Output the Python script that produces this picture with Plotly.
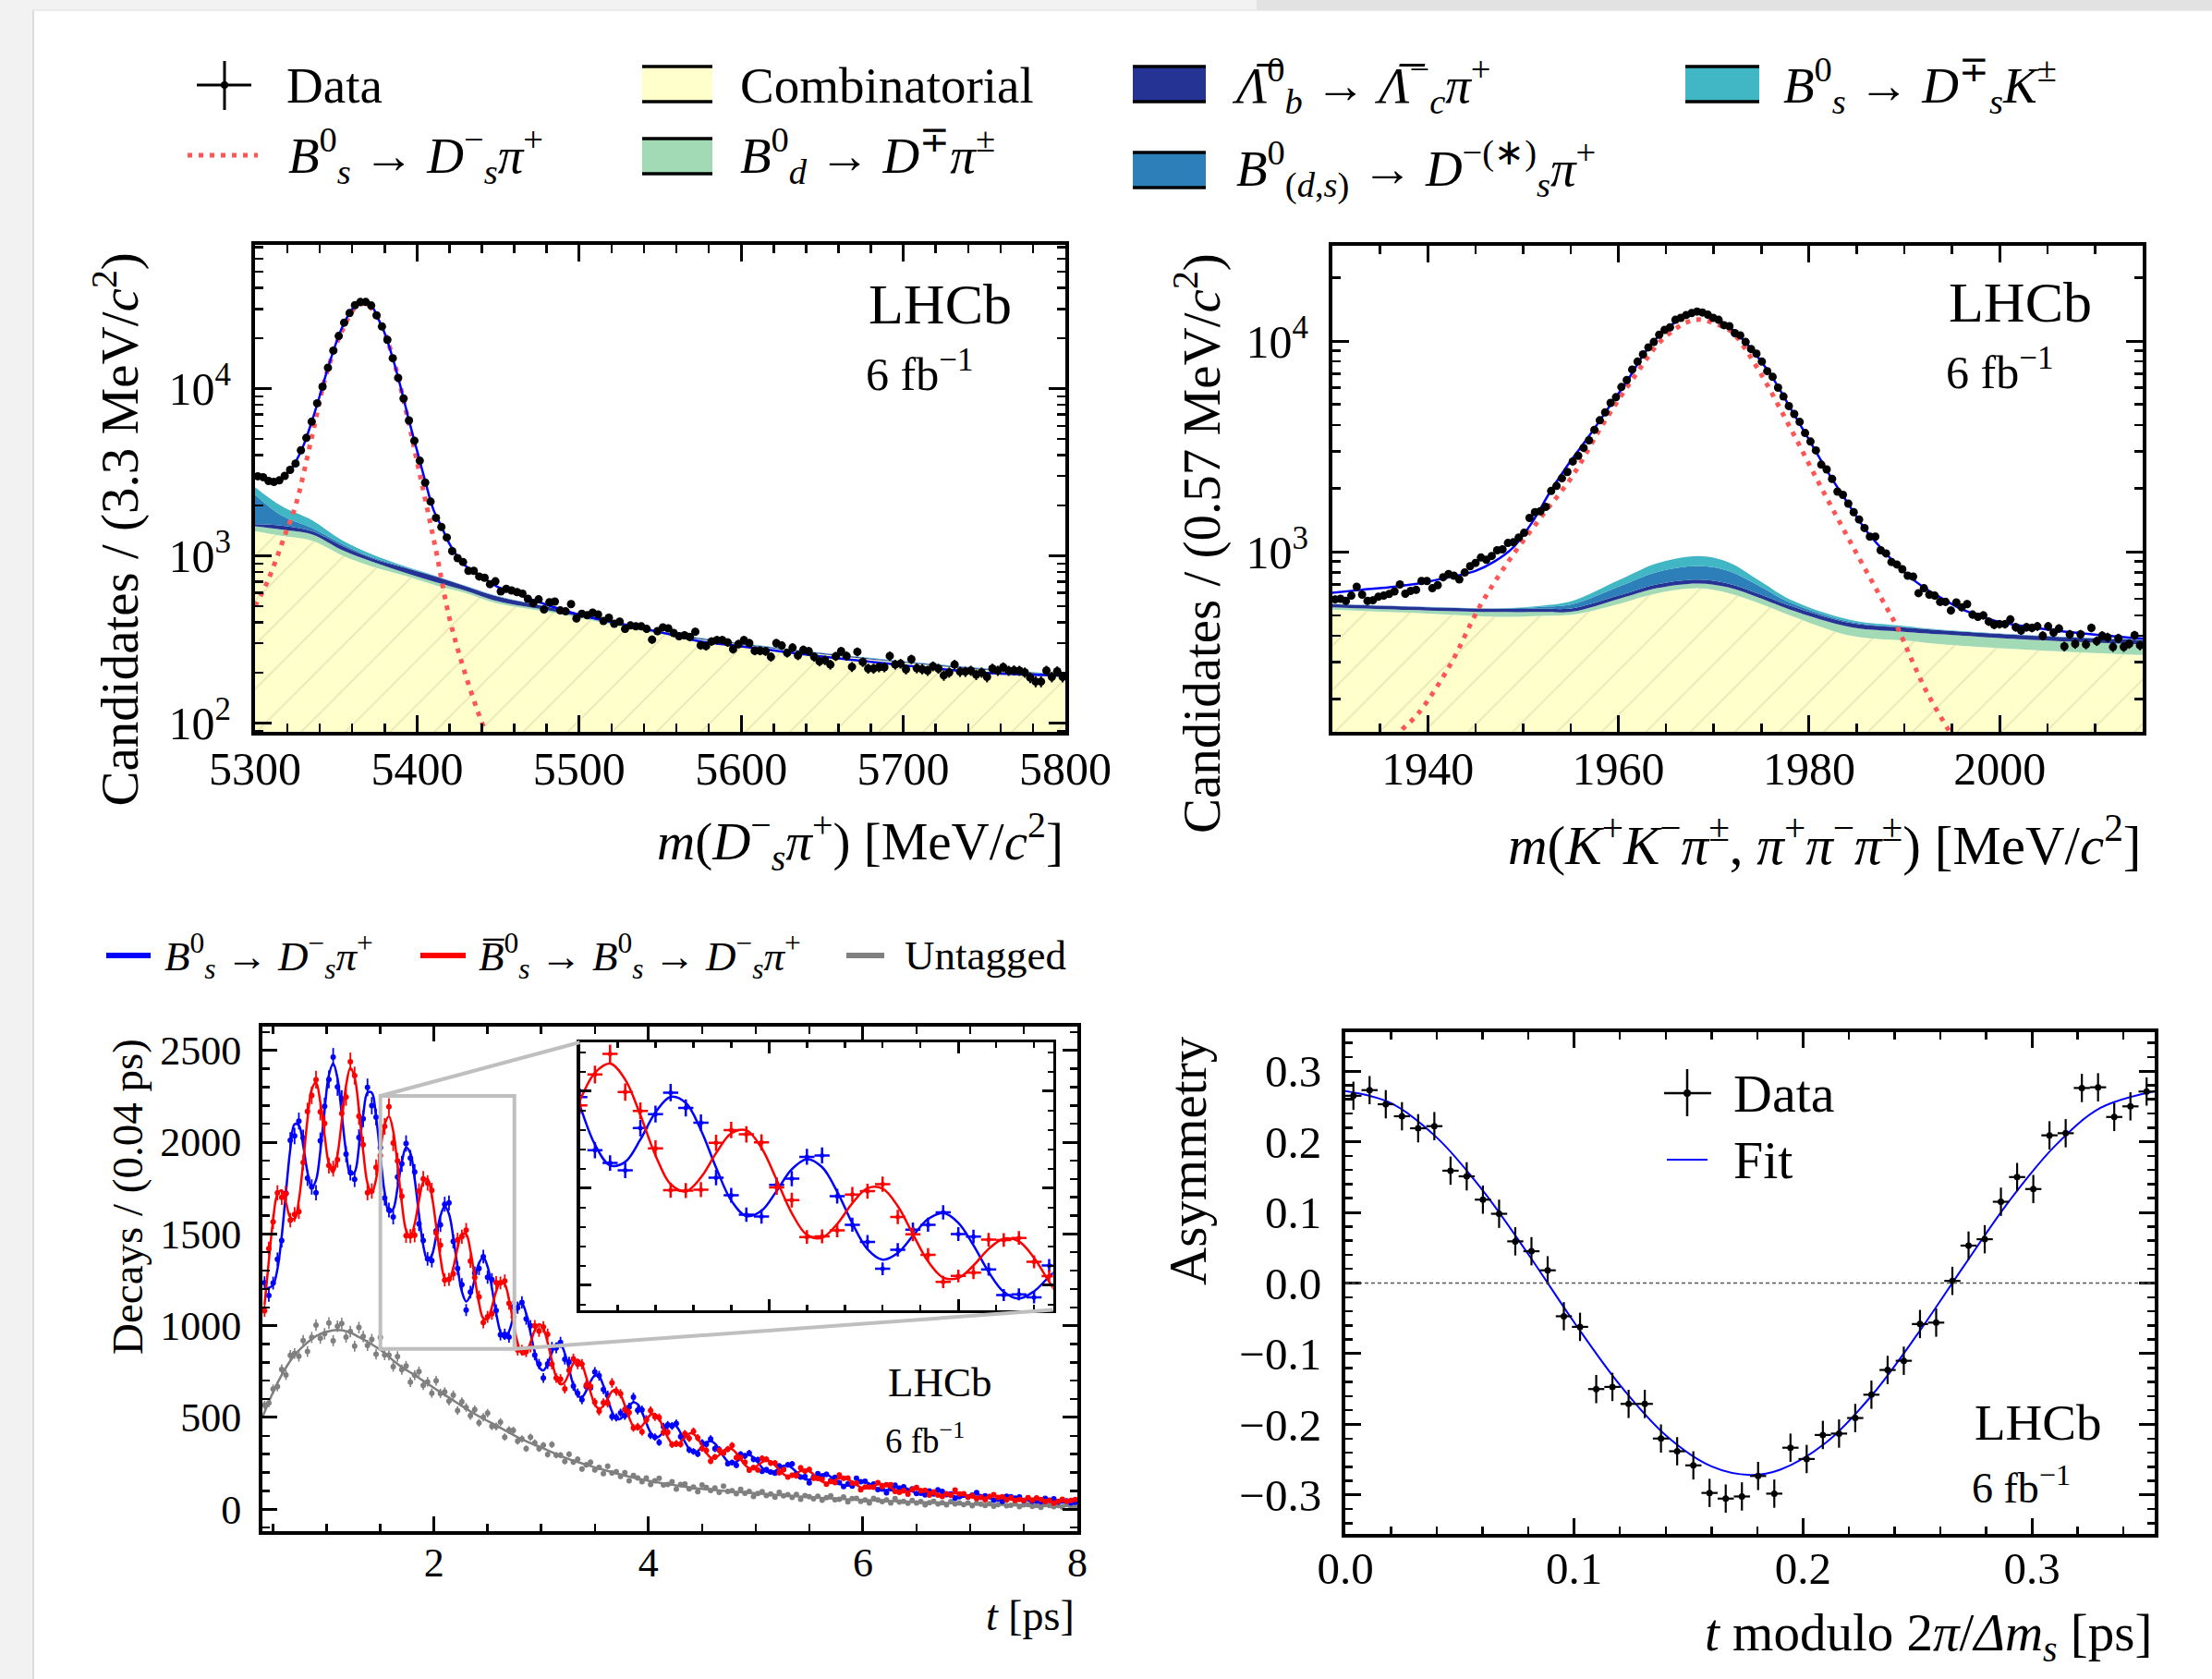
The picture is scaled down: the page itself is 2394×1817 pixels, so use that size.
import numpy as np
import plotly.graph_objects as go

W, H = 2394, 1817
FONT = "Liberation Serif"

# ---------------- data: top-left  m(Ds pi) ----------------
TL_BIN_LO, TL_BIN_W = 5300.0, 500.0 / 150
TL_DATA = [2994, 2955, 2804, 2768, 2829, 3008, 3268, 3566, 4283, 5080,
           6348, 8178, 10265, 13344, 16893, 20654, 24810, 28290, 31560, 32960,
           32960, 31420, 27440, 23540, 19600, 15210, 11600, 8733, 6459, 4884,
           3709, 2744, 2111, 1689, 1488, 1288, 1068, 970, 920, 814,
           814, 753, 740, 678, 705, 613, 635, 621, 608, 595,
           554, 522, 550, 478, 528, 533, 472, 466, 515, 423,
           451, 442, 458, 446, 408, 427, 393, 405, 366, 384,
           379, 379, 366, 316, 355, 374, 369, 346, 331, 335,
           328, 352, 292, 289, 308, 314, 314, 304, 277, 297,
           314, 301, 271, 271, 269, 249, 301, 291, 263, 283,
           254, 274, 269, 249, 234, 238, 224, 251, 269, 252,
           217, 267, 232, 212, 212, 216, 216, 252, 224, 227,
           210, 241, 213, 210, 206, 219, 212, 193, 201, 224,
           203, 203, 206, 195, 201, 189, 212, 206, 216, 206,
           207, 206, 201, 187, 177, 177, 206, 189, 204, 189]
TL_FIT_M = [5300, 5305, 5310, 5315, 5320, 5325, 5330, 5335, 5340, 5345, 5350, 5355, 5360,
            5365, 5368, 5372, 5376, 5380, 5385, 5390, 5395, 5400, 5405, 5410, 5415, 5420,
            5425, 5430, 5440, 5450, 5460, 5475, 5500, 5525, 5550, 5575, 5600, 5650, 5700,
            5750, 5800]
TL_FIT_N = [3000, 2900, 2790, 2850, 3130, 3650, 4600, 6350, 9100, 13300, 18700, 24700, 29900,
            32900, 33000, 31200, 26200, 21500, 15200, 10100, 6450, 4250, 2800, 1900, 1500, 1180,
            990, 870, 750, 650, 600, 530, 445, 395, 350, 308, 288, 250, 222, 200, 192]
TL_SIG_M = [5300, 5308, 5319, 5325, 5335, 5344, 5354, 5363, 5368.5, 5376, 5384, 5392, 5401,
            5411, 5420, 5430, 5441, 5450]
TL_SIG_N = [500, 714, 1376, 1994, 5100, 12200, 22500, 31300, 32000, 26300, 16600, 8260, 3300,
            1160, 423, 193, 95, 60]
TL_BG_M = [5300, 5316, 5335, 5354, 5373, 5392, 5411, 5430, 5449, 5487, 5551, 5600, 5700, 5800]
TL_COMB = [1406, 1320, 1233, 1005, 859, 763, 669, 600, 522, 452, 340, 292, 229, 190]
TL_BD = [1505, 1440, 1346, 1081, 920, 796, 699, 620, 538, 461, 345, 295, 230, 191]
TL_LB = [1549, 1521, 1406, 1145, 962, 851, 754, 657, 574, 482, 351, 299, 233, 193]
TL_BDS = [2323, 1750, 1469, 1175, 975, 860, 758, 660, 576, 483, 352, 300, 234, 194]
TL_DSK = [2577, 1995, 1637, 1233, 1014, 869, 762, 663, 578, 484, 353, 301, 235, 195]

# ---------------- data: top-right  m(Ds) ----------------
TR_BIN_LO, TR_BIN_W = 1930.0, 85.0 / 150
TR_DATA = [595, 599, 585, 620, 683, 627, 585, 589, 612, 620,
           631, 649, 700, 633, 653, 660, 727, 727, 672, 695,
           758, 785, 771, 740, 798, 855, 886, 940, 917, 956,
           1017, 1028, 1102, 1110, 1169, 1231, 1449, 1542, 1558, 1635,
           1944, 2055, 2233, 2393, 2683, 2855, 3113, 3383, 3792, 4209,
           4588, 5091, 5417, 6053, 6531, 7323, 7986, 8647, 9331, 9897,
           10717, 11290, 11607, 12613, 12877, 13284, 13563, 13800, 13657, 13331,
           12877, 12613, 11890, 11766, 10904, 10643, 9897, 9171, 8706, 7986,
           7197, 6763, 6010, 5455, 4917, 4510, 4135, 3663, 3337, 3029,
           2592, 2460, 2218, 1931, 1865, 1693, 1542, 1424, 1297, 1181,
           1181, 1017, 983, 895, 871, 827, 771, 763, 637, 672,
           627, 620, 579, 579, 527, 575, 546, 565, 504, 492,
           500, 467, 451, 454, 454, 478, 439, 424, 439, 436,
           443, 400, 443, 414, 433, 356, 406, 366, 406, 364,
           436, 377, 400, 393, 354, 389, 354, 366, 402, 360]
TR_FIT_M = [1930, 1933, 1936, 1939, 1942, 1945, 1947, 1949, 1951, 1953, 1955, 1957, 1959,
            1961, 1963, 1965, 1967, 1968.3, 1970, 1972, 1974, 1976, 1978, 1980, 1982, 1984,
            1986, 1988, 1990, 1992, 1994, 1996, 1998, 2000, 2005, 2010, 2015]
TR_FIT_N = [640, 660, 680, 707, 754, 812, 900, 1053, 1390, 1980, 2700, 3580, 4850,
            6550, 9100, 11400, 13100, 13700, 12950, 11300, 9100, 6900, 4850, 3400, 2380, 1720,
            1260, 990, 800, 680, 600, 535, 495, 465, 428, 405, 388]
TR_SIG_M = [1936, 1937.1, 1939, 1942.3, 1945.5, 1948.7, 1951.9, 1955.2, 1958.4, 1961.6, 1964.8,
            1968.1, 1971.3, 1972.2, 1974.7, 1978, 1981.2, 1984.4, 1987.6, 1989.3, 1990.9,
            1992.5, 1994.7, 1996]
TR_SIG_N = [118, 140, 171, 288, 555, 933, 1462, 2296, 4050, 6700, 10350,
            12620, 11490, 10720, 7300, 3900, 2050, 1100, 600, 435, 298,
            210, 141, 112]
TR_BG_M = [1930, 1940, 1947.4, 1952, 1955.2, 1960, 1964, 1968.4, 1971.5, 1975, 1978, 1984.4,
           1990, 1994, 2004, 2015]
TR_COMB = [532, 510, 492, 497, 504, 565, 635, 672, 638, 565, 500, 400, 380, 364, 341, 324]
TR_BD = [546, 527, 518, 518, 521, 598, 672, 708, 679, 600, 532, 439, 418, 406, 381, 364]
TR_LB = [565, 546, 537, 537, 540, 620, 700, 738, 707, 625, 555, 459, 438, 424, 399, 381]
TR_BDS = [566, 547, 538, 548, 565, 683, 800, 856, 812, 680, 575, 465, 440, 425, 400, 382]
TR_DSK = [567, 548, 539, 555, 585, 732, 880, 956, 895, 720, 595, 475, 445, 427, 401, 383]

# ---------------- data: bottom-left  decay time ----------------
T_BIN_LO, T_BIN_W = 0.40, 0.04
BLUE_DATA = [1234, 1164, 1232, 1362, 1464, 1722, 2010, 2034, 2115, 2023,
             1804, 1756, 1725, 2008, 2196, 2342, 2464, 2301, 2236, 1935,
             1834, 1798, 2025, 2128, 2299, 2199, 2137, 1970, 1696, 1630,
             1592, 1810, 1882, 1993, 1914, 1838, 1555, 1464, 1364, 1354,
             1517, 1550, 1662, 1669, 1459, 1312, 1224, 1085, 1183, 1287,
             1312, 1376, 1264, 1251, 1082, 950, 953, 938, 1102, 1098,
             1127, 1037, 999, 840, 791, 715, 792, 882, 879, 909,
             817, 802, 671, 632, 596, 668, 661, 747, 727, 652,
             621, 504, 500, 525, 509, 556, 610, 539, 541, 490,
             402, 393, 364, 449, 459, 453, 467, 395, 402, 323,
             314, 301, 362, 354, 383, 329, 325, 305, 248, 254,
             239, 299, 290, 305, 272, 269, 206, 215, 202, 196,
             235, 218, 242, 246, 193, 175, 177, 143, 175, 193,
             179, 190, 156, 174, 145, 123, 137, 125, 168, 149,
             152, 128, 137, 107, 109, 89, 111, 130, 114, 122,
             98, 111, 85, 87, 78, 99, 83, 105, 97, 79,
             83, 59, 68, 80, 68, 76, 90, 64, 73, 68,
             49, 55, 43, 70, 67, 60, 66, 47, 60, 42,
             45, 40, 59, 49, 56, 39, 44, 45, 33, 38]
RED_DATA = [1081, 1420, 1566, 1724, 1699, 1719, 1575, 1606, 1622, 1889,
            2168, 2255, 2341, 2165, 2102, 1873, 1856, 1905, 2157, 2246,
            2439, 2363, 2141, 1986, 1725, 1734, 1863, 1927, 2086, 2193,
            1996, 1899, 1706, 1490, 1488, 1493, 1734, 1800, 1778, 1737,
            1505, 1439, 1249, 1252, 1283, 1468, 1485, 1521, 1352, 1263,
            1157, 1017, 1048, 1065, 1235, 1233, 1244, 1121, 1047, 867,
            866, 858, 884, 999, 970, 993, 953, 790, 715, 709,
            656, 757, 819, 791, 790, 676, 670, 582, 534, 580,
            578, 688, 643, 629, 544, 526, 443, 449, 421, 486,
            537, 503, 499, 419, 419, 352, 357, 354, 411, 386,
            424, 389, 331, 320, 261, 284, 321, 307, 327, 347,
            281, 280, 255, 212, 226, 214, 277, 272, 251, 251,
            198, 215, 175, 185, 181, 225, 207, 216, 168, 167,
            162, 135, 151, 144, 186, 168, 169, 142, 142, 105,
            121, 121, 119, 144, 123, 133, 133, 97, 92, 101,
            82, 108, 118, 100, 103, 77, 94, 77, 69, 84,
            75, 104, 83, 84, 65, 74, 57, 65, 51, 69,
            79, 64, 67, 50, 62, 47, 53, 48, 63, 48,
            61, 53, 41, 47, 32, 43, 54, 43, 48, 53]
GRAY_DATA = [567, 579, 654, 668, 762, 731, 838, 848, 833, 919,
             859, 936, 1003, 932, 956, 1014, 918, 997, 1012, 938,
             968, 888, 990, 941, 892, 925, 844, 937, 841, 839,
             777, 832, 760, 780, 692, 730, 750, 675, 694, 632,
             700, 631, 639, 589, 622, 537, 585, 554, 509, 542,
             470, 501, 523, 452, 450, 474, 393, 431, 429, 371,
             383, 330, 392, 361, 330, 348, 298, 352, 294, 294,
             260, 299, 257, 271, 219, 242, 255, 214, 227, 193,
             234, 197, 204, 178, 199, 155, 184, 170, 149, 170,
             134, 154, 168, 132, 134, 149, 109, 134, 137, 111,
             120, 95, 132, 118, 102, 116, 91, 126, 96, 100,
             84, 108, 86, 96, 69, 85, 95, 74, 83, 65,
             92, 73, 79, 64, 80, 54, 74, 67, 56, 70,
             49, 63, 73, 51, 54, 66, 40, 57, 59, 43,
             50, 34, 59, 50, 41, 50, 34, 57, 39, 42,
             32, 48, 34, 41, 24, 35, 42, 28, 35, 24,
             41, 29, 33, 25, 34, 19, 32, 27, 20, 30,
             16, 25, 32, 19, 21, 28, 13, 23, 25, 15,
             20, 10, 25, 20, 14, 20, 11, 25, 13, 16]
BLUE_FIT = [1206, 1206, 1222, 1308, 1487, 1730, 1961, 2098, 2092, 1983,
            1838, 1752, 1793, 1951, 2177, 2366, 2429, 2349, 2152, 1948,
            1825, 1837, 1972, 2147, 2270, 2270, 2137, 1926, 1725, 1618,
            1636, 1751, 1891, 1971, 1940, 1800, 1607, 1437, 1357, 1384,
            1486, 1598, 1650, 1609, 1482, 1319, 1186, 1132, 1166, 1255,
            1341, 1372, 1322, 1206, 1069, 966, 932, 969, 1044, 1108,
            1120, 1066, 962, 852, 774, 756, 792, 853, 900, 900,
            849, 763, 676, 620, 611, 645, 695, 728, 722, 673,
            601, 532, 493, 492, 523, 561, 583, 572, 529, 470,
            418, 391, 396, 422, 451, 464, 452, 415, 367, 328,
            310, 317, 340, 362, 371, 357, 325, 288, 259, 249,
            257, 276, 293, 296, 282, 255, 226, 205, 199, 208,
            223, 236, 237, 224, 202, 178, 163, 161, 169, 181,
            190, 189, 177, 158, 140, 129, 129, 137, 146, 153,
            150, 139, 124, 111, 103, 104, 111, 119, 122, 119,
            110, 97, 87, 82, 84, 90, 96, 98, 95, 86,
            76, 69, 66, 68, 73, 78, 80, 76, 69, 61,
            55, 54, 55, 60, 64, 64, 61, 54, 48, 44,
            44, 46, 50, 52, 52, 49, 44, 39, 37, 36]
RED_FIT = [1114, 1354, 1578, 1716, 1737, 1670, 1591, 1582, 1684, 1889,
           2122, 2288, 2327, 2217, 2039, 1882, 1835, 1931, 2116, 2308,
           2405, 2353, 2178, 1951, 1776, 1722, 1799, 1954, 2095, 2142,
           2060, 1877, 1669, 1521, 1484, 1556, 1681, 1783, 1799, 1708,
           1544, 1372, 1260, 1245, 1316, 1423, 1500, 1498, 1408, 1263,
           1123, 1040, 1038, 1102, 1187, 1240, 1226, 1141, 1018, 906,
           846, 852, 908, 974, 1008, 984, 908, 807, 720, 680,
           693, 743, 794, 814, 787, 719, 637, 572, 546, 563,
           603, 642, 651, 624, 565, 499, 451, 436, 453, 486,
           514, 519, 492, 442, 391, 356, 348, 365, 393, 412,
           410, 385, 346, 306, 281, 279, 295, 318, 331, 327,
           305, 272, 241, 224, 224, 239, 256, 265, 259, 240,
           213, 190, 179, 182, 194, 208, 213, 207, 189, 167,
           150, 143, 147, 158, 168, 171, 163, 149, 132, 119,
           114, 119, 128, 135, 137, 130, 117, 103, 94, 91,
           96, 103, 109, 108, 102, 92, 82, 74, 73, 78,
           84, 87, 86, 82, 73, 64, 60, 60, 63, 69,
           71, 70, 65, 58, 52, 48, 49, 52, 56, 58,
           56, 52, 46, 42, 40, 41, 44, 47, 49, 46]
GRAY_FIT_T = [0.4, 0.5, 0.6, 0.7, 0.8, 0.9, 1.0, 1.1, 1.2, 1.3, 1.4, 1.5, 1.6, 1.7, 1.8, 1.9,
              2.0, 2.2, 2.4, 2.6, 2.8, 3.0, 3.2, 3.4, 3.6, 3.8, 4.0, 4.25, 4.5, 5.0, 5.5, 6.0,
              6.5, 7.0, 7.5, 8.0]
GRAY_FIT_N = [500, 638, 752, 840, 898, 943, 967, 977, 967, 938, 905, 868, 820, 774, 738, 699,
              661, 585, 512, 450, 386, 336, 285, 246, 211, 180, 155, 130, 110, 86, 65, 50,
              39, 29, 22, 16]
ZOOM_T = [1.5, 2.75]
ZOOM_N = [873, 2252]

# ---------------- data: bottom-right  asymmetry ----------------
A_BIN_LO, A_BIN_W = 0.0, 0.35368 / 50
ASYM = [0.265, 0.273, 0.253, 0.236, 0.219, 0.222, 0.159, 0.151, 0.118, 0.098,
        0.059, 0.045, 0.018, -0.047, -0.062, -0.150, -0.147, -0.171, -0.171, -0.220,
        -0.238, -0.258, -0.297, -0.305, -0.302, -0.273, -0.298, -0.233, -0.249, -0.215,
        -0.213, -0.191, -0.158, -0.123, -0.110, -0.058, -0.056, 0.003, 0.053, 0.062,
        0.115, 0.150, 0.133, 0.209, 0.212, 0.276, 0.277, 0.235, 0.250, 0.271]
ASYM_ERR = 0.02
ASYM_FIT_T = [0.0, 0.02, 0.04, 0.06, 0.08, 0.10, 0.12, 0.14, 0.16, 0.177, 0.19, 0.21, 0.23,
              0.25, 0.27, 0.29, 0.31, 0.33, 0.3537]
ASYM_FIT = [0.2715, 0.2545, 0.2058, 0.1313, 0.0406, -0.0555, -0.1443, -0.2154, -0.2594, -0.2715,
            -0.2641, -0.2259, -0.1592, -0.0725, 0.0227, 0.1156, 0.1937, 0.2478, 0.2715]

# ---------------- layout helpers ----------------
def px(x):
    return x / W


def py(y):
    return 1 - y / H


BOX = {  # left, right, top, bottom in pixels
    'tl': (276, 1153, 265, 792),
    'tr': (1442, 2319, 266, 792),
    'bl': (284, 1166, 1111, 1657),
    'br': (1456, 2332, 1117, 1660),
    'in': (627.5, 1139.6, 1128, 1417.6),
}


def xdom(k):
    b = BOX[k]
    return [px(b[0]), px(b[1])]


def ydom(k):
    b = BOX[k]
    return [py(b[3]), py(b[2])]


C_YEL, C_GRN, C_CYN, C_BLU, C_NAV = '#ffffcc', '#a1dab4', '#41b6c4', '#2c7fb8', '#253494'
C_SIG = '#ff5555'
C_FIT = '#0000ff'
SIG_DASH = '5px,7px'

fig = go.Figure()


def band_traces(m, layers, xa, ya):
    fig.add_trace(go.Scatter(x=[m[0], m[-1]], y=[1.0, 1.0], mode='lines', line=dict(width=0),
                             xaxis=xa, yaxis=ya, hoverinfo='skip'))
    first = True
    for vals, color in layers:
        kw = {}
        if first:
            kw['fillpattern'] = dict(shape='/', size=34, solidity=0.05, fgcolor='#e9e6b6',
                                     bgcolor=C_YEL, fgopacity=1)
        fig.add_trace(go.Scatter(x=m, y=vals, mode='lines', line=dict(width=0, shape='spline'),
                                 fill='tonexty', fillcolor=color, xaxis=xa, yaxis=ya,
                                 hoverinfo='skip', **kw))
        first = False


def mass_panel(xa, ya, bg_m, comb, bd, lb, bds, dsk, sig_m, sig_n, fit_m, fit_n, data, lo, w):
    band_traces(bg_m, [(comb, C_YEL), (bd, C_GRN), (lb, C_NAV), (bds, C_BLU), (dsk, C_CYN)], xa, ya)
    fig.add_trace(go.Scatter(x=sig_m, y=sig_n, mode='lines', xaxis=xa, yaxis=ya,
                             line=dict(color=C_SIG, width=5, dash=SIG_DASH, shape='spline')))
    fig.add_trace(go.Scatter(x=fit_m, y=fit_n, mode='lines', xaxis=xa, yaxis=ya,
                             line=dict(color=C_FIT, width=2.5, shape='spline')))
    fig.add_trace(go.Scatter(x0=lo + w / 2, dx=w, y=data, mode='markers', xaxis=xa, yaxis=ya,
                             marker=dict(color='black', size=9),
                             error_y=dict(type='data', array=np.sqrt(data), color='black',
                                          thickness=2, width=0)))


mass_panel('x', 'y', TL_BG_M, TL_COMB, TL_BD, TL_LB, TL_BDS, TL_DSK, TL_SIG_M, TL_SIG_N,
           TL_FIT_M, TL_FIT_N, TL_DATA, TL_BIN_LO, TL_BIN_W)
mass_panel('x2', 'y2', TR_BG_M, TR_COMB, TR_BD, TR_LB, TR_BDS, TR_DSK, TR_SIG_M, TR_SIG_N,
           TR_FIT_M, TR_FIT_N, TR_DATA, TR_BIN_LO, TR_BIN_W)

# decay time panel + inset
C_B, C_R, C_G = '#0000ff', '#ff0000', '#808080'
t0 = T_BIN_LO + T_BIN_W / 2
fig.add_trace(go.Scatter(x=GRAY_FIT_T, y=GRAY_FIT_N, mode='lines', xaxis='x3', yaxis='y3',
                         line=dict(color=C_G, width=2.5, shape='spline')))
fig.add_trace(go.Scatter(x0=t0, dx=T_BIN_W, y=GRAY_DATA, mode='markers', xaxis='x3', yaxis='y3',
                         marker=dict(color=C_G, size=6),
                         error_y=dict(type='data', array=np.sqrt(GRAY_DATA), color=C_G,
                                      thickness=1.6, width=0)))
for data, fit, col in [(BLUE_DATA, BLUE_FIT, C_B), (RED_DATA, RED_FIT, C_R)]:
    fig.add_trace(go.Scatter(x0=t0, dx=T_BIN_W, y=fit, mode='lines', xaxis='x3', yaxis='y3',
                             line=dict(color=col, width=2.5, shape='spline')))
    fig.add_trace(go.Scatter(x0=t0, dx=T_BIN_W, y=data, mode='markers', xaxis='x3', yaxis='y3',
                             marker=dict(color=col, size=6),
                             error_y=dict(type='data', array=np.sqrt(data), color=col,
                                          thickness=1.8, width=0)))
    fig.add_trace(go.Scatter(x0=t0, dx=T_BIN_W, y=fit, mode='lines', xaxis='x5', yaxis='y5',
                             line=dict(color=col, width=2.5, shape='spline')))
    fig.add_trace(go.Scatter(x0=t0, dx=T_BIN_W, y=data, mode='markers', xaxis='x5', yaxis='y5',
                             marker=dict(color=col, size=5),
                             error_y=dict(type='data', array=np.sqrt(data), color=col,
                                          thickness=2.5, width=0),
                             error_x=dict(type='constant', value=T_BIN_W / 2, color=col,
                                          thickness=2.5, width=0)))

# asymmetry panel
fig.add_trace(go.Scatter(x=ASYM_FIT_T, y=ASYM_FIT, mode='lines', xaxis='x4', yaxis='y4',
                         line=dict(color=C_FIT, width=2, shape='spline')))
fig.add_trace(go.Scatter(x0=A_BIN_LO + A_BIN_W / 2, dx=A_BIN_W, y=ASYM, mode='markers',
                         xaxis='x4', yaxis='y4', marker=dict(color='black', size=7),
                         error_y=dict(type='constant', value=ASYM_ERR, color='black',
                                      thickness=2.2, width=0),
                         error_x=dict(type='constant', value=A_BIN_W / 2, color='black',
                                      thickness=2.2, width=0)))


# ---------------- axes ----------------
def axis(k, anchor, rng, size, major_len, minor_len, is_x, minor_kw=None, **kw):
    d = dict(domain=xdom(k) if is_x else ydom(k), anchor=anchor, range=rng, automargin=False,
             showline=True, linecolor='black', linewidth=4, mirror='allticks',
             ticks='inside', ticklen=major_len, tickwidth=3, tickcolor='black',
             showgrid=False, zeroline=False,
             tickfont=dict(family=FONT, size=size, color='black'))
    mn = dict(ticks='inside', ticklen=minor_len, tickwidth=2.5, tickcolor='black', showgrid=False)
    mn.update(minor_kw or {})
    d['minor'] = mn
    d.update(kw)
    return d


def log_minor(decades):
    return [d * k for d in decades for k in range(2, 10)]


LOG_TEXT = {100: '10<sup>2</sup>', 1000: '10<sup>3</sup>', 10000: '10<sup>4</sup>'}

fig.update_layout(
    xaxis=axis('tl', 'y', [5300, 5800], 50, 18, 9, True, dict(dtick=20), tick0=5300, dtick=100,
               ticklabelstandoff=-7),
    yaxis=axis('tl', 'x', [np.log10(88.7), np.log10(72400)], 50, 18, 9, False,
               dict(tickvals=log_minor([10, 100, 1000, 10000])), type='log',
               tickvals=[100, 1000, 10000], ticktext=[LOG_TEXT[v] for v in (100, 1000, 10000)],
               ticklabelstandoff=12),
    xaxis2=axis('tr', 'y2', [1930, 2015], 50, 18, 9, True, dict(dtick=5, tick0=1930),
                tick0=1940, dtick=20, ticklabelstandoff=-7),
    yaxis2=axis('tr', 'x2', [np.log10(140), np.log10(28300)], 50, 18, 9, False,
                dict(tickvals=log_minor([100, 1000, 10000])), type='log',
                tickvals=[1000, 10000], ticktext=[LOG_TEXT[v] for v in (1000, 10000)],
                ticklabelstandoff=12),
    xaxis3=axis('bl', 'y3', [0.4, 8.0], 44, 16, 8, True, dict(dtick=0.5, tick0=0),
                tick0=0, dtick=2, ticklabelstandoff=-8),
    yaxis3=axis('bl', 'x3', [-120, 2630], 44, 16, 8, False, dict(dtick=100, tick0=0),
                tick0=0, dtick=500, ticklabelstandoff=10),
    xaxis4=axis('br', 'y4', [0, 0.35368], 49, 17, 8, True, dict(dtick=0.02, tick0=0),
                tick0=0, dtick=0.1, tickformat='.1f', ticklabelstandoff=-9),
    yaxis4=axis('br', 'x4', [-0.355, 0.355], 49, 17, 8, False, dict(dtick=0.02, tick0=0),
                tick0=0, dtick=0.1, tickformat='.1f', ticklabelstandoff=12),
    xaxis5=axis('in', 'y5', ZOOM_T, 10, 12, 6, True, dict(dtick=0.1, tick0=0),
                tick0=0, dtick=0.5, showticklabels=False, linewidth=3.5),
    yaxis5=axis('in', 'x5', ZOOM_N, 10, 12, 6, False, dict(dtick=100, tick0=0),
                tick0=0, dtick=500, showticklabels=False, linewidth=3.5),
    width=W, height=H, margin=dict(l=0, r=0, t=0, b=0, autoexpand=False),
    paper_bgcolor='#f2f2f2', plot_bgcolor='rgba(0,0,0,0)', showlegend=False,
    font=dict(family=FONT, color='black'), hovermode=False,
)

shapes = []
ann = []


def pline(x0, y0, x1, y1, color='black', width=3, dash=None):
    shapes.append(dict(type='line', xref='paper', yref='paper', x0=px(x0), y0=py(y0),
                       x1=px(x1), y1=py(y1), line=dict(color=color, width=width, dash=dash)))


def prect(x0, y0, x1, y1, fill, edges=True, layer='above'):
    shapes.append(dict(type='rect', xref='paper', yref='paper', x0=px(x0), y0=py(y1),
                       x1=px(x1), y1=py(y0), fillcolor=fill, line=dict(width=0), layer=layer))
    if edges:
        pline(x0, y0, x1, y0, width=3.5)
        pline(x0, y1, x1, y1, width=3.5)


def text(x, y, s, size, xanchor='left', yanchor='middle', angle=0):
    ann.append(dict(xref='paper', yref='paper', x=px(x), y=py(y), text=s, showarrow=False,
                    xanchor=xanchor, yanchor=yanchor, textangle=angle,
                    font=dict(family=FONT, size=size, color='black')))


# page card (white sheet on a light grey page)
prect(1360, 0, W, 11, '#e2e2e2', edges=False, layer='below')
prect(36, 11, W, H, 'white', edges=False, layer='below')
pline(36, 11, 36, H, color='#dcdcdc', width=2)
pline(36, 11, W, 11, color='#e6e6e6', width=1.5)

# top legend
LEG = 55
pline(213, 92, 272, 92, width=3)
pline(243, 66, 243, 119, width=3)
shapes.append(dict(type='circle', xref='paper', yref='paper', x0=px(239), x1=px(247),
                   y0=py(96), y1=py(88), fillcolor='black', line=dict(width=0)))
text(308, 92, 'Data', LEG)
pline(203, 168, 279, 168, color=C_SIG, width=5, dash=SIG_DASH)
text(310, 168, '<i>B</i><sup>0</sup><sub><i>s</i></sub> → <i>D</i><sup>−</sup><sub><i>s</i></sub>'
     '<i>π</i><sup>+</sup>', LEG)
prect(695, 72, 771, 110, C_YEL)
text(799, 92, 'Combinatorial', LEG)
prect(695, 150, 771, 188, C_GRN)
text(799, 168, '<i>B</i><sup>0</sup><sub><i>d</i></sub> → <i>D</i><sup>∓</sup><i>π</i><sup>±</sup>', LEG)
prect(1226, 72, 1305, 110, C_NAV)
text(1331, 92, '<i>Λ̅</i><sup>0</sup><sub><i>b</i></sub> → <i>Λ̅</i><sup>−</sup><sub><i>c</i></sub>'
     '<i>π</i><sup>+</sup>', LEG)
prect(1226, 165, 1305, 203, C_BLU)
text(1336, 183, '<i>B</i><sup>0</sup><sub>(<i>d</i>,<i>s</i>)</sub> → <i>D</i><sup>−(∗)</sup>'
     '<sub><i>s</i></sub><i>π</i><sup>+</sup>', LEG)
prect(1824, 72, 1904, 110, C_CYN)
text(1928, 92, '<i>B</i><sup>0</sup><sub><i>s</i></sub> → <i>D</i><sup>∓</sup><sub><i>s</i></sub>'
     '<i>K</i><sup>±</sup>', LEG)

# bottom-left legend
LEG2 = 45
pline(115, 1034, 163, 1034, color=C_B, width=6)
text(176, 1034, '<i>B</i><sup>0</sup><sub><i>s</i></sub> → <i>D</i><sup>−</sup><sub><i>s</i></sub>'
     '<i>π</i><sup>+</sup>', LEG2)
pline(455, 1034, 504, 1034, color=C_R, width=6)
text(516, 1034, '<i>B̅</i><sup>0</sup><sub><i>s</i></sub> → <i>B</i><sup>0</sup><sub><i>s</i></sub> → '
     '<i>D</i><sup>−</sup><sub><i>s</i></sub><i>π</i><sup>+</sup>', LEG2)
pline(916, 1034, 957, 1034, color=C_G, width=6)
text(977, 1034, 'Untagged', LEG2)

# asymmetry legend
pline(1801, 1183, 1852, 1183, width=2.5)
pline(1826, 1157, 1826, 1208, width=2.5)
shapes.append(dict(type='circle', xref='paper', yref='paper', x0=px(1822), x1=px(1830),
                   y0=py(1187), y1=py(1179), fillcolor='black', line=dict(width=0)))
text(1874, 1183, 'Data', 58)
pline(1804, 1255, 1848, 1255, color=C_FIT, width=2)
text(1874, 1255, 'Fit', 58)

# zero line in asymmetry panel
shapes.append(dict(type='line', xref='x4 domain', yref='y4', x0=0, x1=1, y0=0, y1=0,
                   line=dict(color='#555555', width=1.3, dash='4px,3px')))

# zoom rectangle and connectors in the decay-time panel
shapes.append(dict(type='rect', xref='x3', yref='y3', x0=ZOOM_T[0], x1=ZOOM_T[1], y0=ZOOM_N[0],
                   y1=ZOOM_N[1], line=dict(color='#bfbfbf', width=4)))
bl = BOX['bl']
ins = BOX['in']
xr = [0.4, 8.0]
yr = [-120, 2630]


def to_t(p):
    return xr[0] + (p - bl[0]) / (bl[1] - bl[0]) * (xr[1] - xr[0])


def to_n(p):
    return yr[1] - (p - bl[2]) / (bl[3] - bl[2]) * (yr[1] - yr[0])


shapes.append(dict(type='line', xref='x3', yref='y3', x0=ZOOM_T[0], y0=ZOOM_N[1],
                   x1=to_t(ins[0]), y1=to_n(ins[2]), line=dict(color='#bfbfbf', width=4)))
shapes.append(dict(type='line', xref='x3', yref='y3', x0=ZOOM_T[1], y0=ZOOM_N[0],
                   x1=to_t(ins[1]), y1=to_n(ins[3]), line=dict(color='#bfbfbf', width=4)))

# LHCb labels
for (x, y1, y2, s1, s2) in [(938, 329, 402, 62, 50), (2107, 327, 400, 62, 50),
                            (959, 1496, 1556, 45, 37), (2135, 1539, 1607, 55, 46)]:
    text(x, y1, 'LHCb', s1)
    text(x - 3, y2, '6 fb<sup>−1</sup>', s2)

# axis titles
text(126, 272, 'Candidates / (3.3 MeV/<i>c</i><sup>2</sup>)', 57, xanchor='center', yanchor='top',
     angle=-90)
text(1296, 272, 'Candidates / (0.57 MeV/<i>c</i><sup>2</sup>)', 57, xanchor='center',
     yanchor='top', angle=-90)
text(1153, 910, '<i>m</i>(<i>D</i><sup>−</sup><sub><i>s</i></sub><i>π</i><sup>+</sup>) '
     '[MeV/<i>c</i><sup>2</sup>]', 57, xanchor='right')
text(2319, 910, '<i>m</i>(<i>K</i><sup>+</sup><i>K</i><sup>−</sup><i>π</i><sup>±</sup>, '
     '<i>π</i><sup>+</sup><i>π</i><sup>−</sup><i>π</i><sup>±</sup>) [MeV/<i>c</i><sup>2</sup>]',
     59, xanchor='right')
text(138, 1122, 'Decays / (0.04 ps)', 47, xanchor='center', yanchor='top', angle=-90)
text(1165, 1748, '<i>t</i> [ps]', 46, xanchor='right')
text(1285, 1119, 'Asymmetry', 57, xanchor='center', yanchor='top', angle=-90)
text(2332, 1771, '<i>t</i> modulo 2<i>π</i>/<i>Δm</i><sub><i>s</i></sub> [ps]', 57,
     xanchor='right')

fig.update_layout(shapes=shapes, annotations=ann)
fig.write_html("out.html", config={'displayModeBar': False, 'staticPlot': True},
               post_script="document.body.style.margin='0px';"
                           "document.body.style.padding='0px';"
                           "document.body.style.overflow='hidden';")
